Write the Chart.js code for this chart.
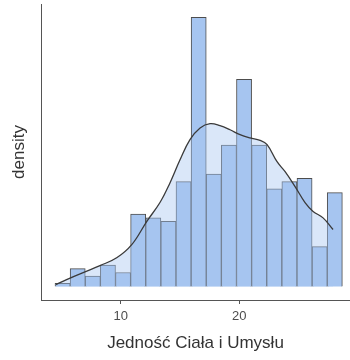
<!DOCTYPE html>
<html>
<head>
<meta charset="utf-8">
<script src="https://cdn.jsdelivr.net/npm/chart.js@4.4.1/dist/chart.umd.min.js"></script>
<style>
    html, body { margin: 0; padding: 0; background: #fff; }
    #chart { display: block; }
</style>
</head>
<body>
<canvas id="chart" width="350" height="360"></canvas>
<script>
// srodki przedzialow histogramu (szerokosc ~1.275)
const binCenters = [5.098, 6.373, 7.648, 8.923, 10.198, 11.473, 12.748, 14.023, 15.298, 16.573,
    17.848, 19.123, 20.398, 21.673, 22.948, 24.223, 25.498, 26.773, 28.048];
const binDensity = [0.0015, 0.0083, 0.0049, 0.0099, 0.0065, 0.0336, 0.0318, 0.0302, 0.0486, 0.1246,
    0.0521, 0.0655, 0.0959, 0.0655, 0.0453, 0.0486, 0.0501, 0.0185, 0.0435];

// krzywa gestosci
const kdeX = [4.55, 5.73, 6.99, 8.25, 9.66, 10.93, 12.19, 13.31, 14.16, 15.00, 15.84, 16.69, 17.53,
    18.37, 19.22, 20.06, 20.90, 21.75, 22.34, 23.18, 23.86, 24.70, 25.54, 26.22, 27.06, 27.90];
const kdeY = [0.0009, 0.0039, 0.0068, 0.0097, 0.0133, 0.0194, 0.0301, 0.0389, 0.0481, 0.0587, 0.0680,
    0.0734, 0.0754, 0.0745, 0.0726, 0.0703, 0.0688, 0.0677, 0.0657, 0.0578, 0.0532, 0.0463, 0.0389,
    0.0348, 0.0318, 0.0264];

const xTicks = [10, 20];

const fontFamily = '"Liberation Sans", Arial, sans-serif';
const axisColor = '#555555';

let yMax = Math.max(...binDensity);

const ctx = document.getElementById('chart');

new Chart(ctx, {
    type: 'bar',
    data: {
        datasets: [
            {
                type: 'line',
                label: 'density',
                data: kdeX.map((x, i) => ({x: x, y: kdeY[i]})),
                borderColor: '#3a3a3a',
                borderWidth: 1.3,
                backgroundColor: 'rgba(166,197,240,0.42)',
                fill: 'origin',
                tension: 0.4,
                pointRadius: 0,
                order: 0
            },
            {
                label: 'count',
                data: binCenters.map((x, i) => ({x: x, y: binDensity[i]})),
                backgroundColor: '#a6c5f0',
                borderColor: '#4d4d4d',
                borderWidth: 1,
                barPercentage: 1,
                categoryPercentage: 1,
                order: 1
            }
        ]
    },
    options: {
        responsive: false,
        animation: false,
        devicePixelRatio: 1,
        layout: {
            padding: {top: 4, right: 0, bottom: 0, left: 0}
        },
        plugins: {
            legend: {display: false},
            tooltip: {enabled: false}
        },
        scales: {
            x: {
                type: 'linear',
                offset: false,
                min: 3.28,
                max: 29.33,
                afterBuildTicks: (axis) => {
                    axis.ticks = xTicks.map(v => ({value: v}));
                },
                afterFit: (axis) => {
                    axis.height = 60;
                },
                grid: {
                    offset: false,
                    drawOnChartArea: false,
                    drawTicks: true,
                    tickLength: 4,
                    color: axisColor
                },
                border: {display: true, color: axisColor, width: 1},
                ticks: {
                    color: '#4d4d4d',
                    padding: 5,
                    maxRotation: 0,
                    font: {size: 13, family: fontFamily}
                },
                title: {
                    display: true,
                    text: 'Jedność Ciała i Umysłu',
                    color: '#333333',
                    font: {size: 17, family: fontFamily},
                    padding: {top: 4, bottom: 6}
                }
            },
            y: {
                min: -0.05 * yMax,
                max: 1.05 * yMax,
                afterFit: (axis) => {
                    axis.width = 41;
                },
                grid: {display: false, drawTicks: false},
                border: {display: true, color: axisColor, width: 1},
                ticks: {display: false},
                title: {
                    display: true,
                    text: 'density',
                    color: '#333333',
                    font: {size: 17, family: fontFamily},
                    padding: {top: 9, bottom: 11}
                }
            }
        }
    }
});
</script>
</body>
</html>
